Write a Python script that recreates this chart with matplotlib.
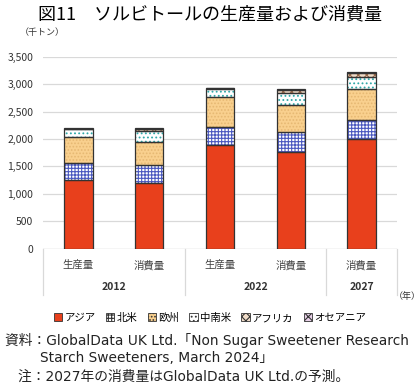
import numpy as np
import matplotlib
matplotlib.use("Agg")
import matplotlib.pyplot as plt
from matplotlib.patches import Patch

plt.rcParams['font.family'] = ['Noto Sans CJK JP', 'DejaVu Sans']
plt.rcParams['hatch.linewidth'] = 0.8

# data (thousand tonnes)
bar_labels = ["生産量", "消費量", "生産量", "消費量", "消費量"]
years = ["2012", "2022", "2027"]
year_span = [2, 2, 1]
regions = ["アジア", "北米", "欧州", "中南米", "アフリカ", "オセアニア"]
asia = [1250, 1200, 1885, 1770, 1995]
n_america = [320, 325, 340, 355, 350]
europe = [465, 420, 535, 500, 560]
latam = [150, 205, 160, 210, 220]
africa = [5, 25, 5, 60, 70]
oceania = [3, 20, 3, 25, 30]
series = [asia, n_america, europe, latam, africa, oceania]

# face, hatch colour, hatch pattern
styles = [
    ("#E8401C", None, None),
    ("white", "#4A58C0", "+++++"),
    ("#F9D08E", "#E6B872", "....."),
    ("white", "#2FA8A8", "...."),
    ("#F0DCC8", "#9A6A4A", "xxxx"),
    ("#E8D0E8", "#7A3A8A", "xxxx"),
]

fig = plt.figure(figsize=(4.2, 3.85), dpi=100)
ax = fig.add_axes([43 / 420, 136.3 / 385, 354 / 420, 192 / 385])

x = np.arange(len(bar_labels))
bottom = np.zeros(len(x))
for vals, (fc, hc, hp) in zip(series, styles):
    vals = np.array(vals, dtype=float)
    if hp:
        ax.bar(x, vals, 0.4, bottom=bottom, color=fc, edgecolor=hc, hatch=hp,
               linewidth=0, zorder=2)
    else:
        ax.bar(x, vals, 0.4, bottom=bottom, color=fc, linewidth=0, zorder=2)
    ax.bar(x, vals, 0.4, bottom=bottom, fill=False, edgecolor="#333333",
           linewidth=0.9, zorder=3)
    bottom += vals

ax.set_xlim(-0.5, len(x) - 0.5)
ax.set_ylim(0, 3500)
ax.set_yticks(np.arange(0, 3501, 500))
ax.set_yticklabels([f"{v:,}" for v in range(0, 3501, 500)], fontsize=7.5, color="#333333")
ax.tick_params(axis="y", length=0, pad=7)
ax.set_xticks([])
ax.grid(axis="y", color="#D9D9D9", linewidth=0.9, zorder=0)
ax.set_axisbelow(True)
for s in ax.spines.values():
    s.set_visible(False)
ax.axhline(0, color="#D9D9D9", linewidth=0.9, zorder=1)

# two-level category axis
trans = ax.get_xaxis_transform()
for i, lab in enumerate(bar_labels):
    ax.text(i, -0.085, lab, transform=trans, ha="center", va="center",
            fontsize=7.5, color="#444444")
pos = -0.5
ax.plot([pos, pos], [0, -0.24], transform=trans, color="#D9D9D9", lw=0.9, clip_on=False)
for yr, span in zip(years, year_span):
    ax.text(pos + span / 2, -0.2, yr, transform=trans, ha="center", va="center",
            fontsize=7.5, fontweight="bold", color="#333333")
    pos += span
    ax.plot([pos, pos], [0, -0.24], transform=trans, color="#D9D9D9", lw=0.9, clip_on=False)

fig.text(42 / 420, 1 - 33 / 385, "（千トン）", fontsize=6.5, ha="center", va="center", color="#333333")
fig.text(407 / 420, 1 - 297 / 385, "（年）", fontsize=6.5, ha="center", va="center", color="#333333")

fig.text(0.5, 1 - 14 / 385, "図11　ソルビトールの生産量および消費量", fontsize=13,
         ha="center", va="center")

handles = [Patch(facecolor=fc, edgecolor="#333333", hatch=hp if hp else None, linewidth=0.6)
           for fc, hc, hp in styles]
fig.legend(handles, regions, loc="center", bbox_to_anchor=(0.5, 1 - 318 / 385), ncol=6,
           frameon=False, fontsize=7.5, handlelength=0.8, handleheight=0.8,
           handletextpad=0.2, columnspacing=1.0)

src_font = ['DejaVu Sans', 'Noto Sans CJK JP']
fig.text(5 / 420, 1 - 340 / 385, "資料：GlobalData UK Ltd.「Non Sugar Sweetener Research",
         fontsize=9.9, ha="left", va="center", color="#222222", family=src_font)
fig.text(40 / 420, 1 - 358 / 385, "Starch Sweeteners, March 2024」",
         fontsize=9.9, ha="left", va="center", color="#222222", family=src_font)
fig.text(18 / 420, 1 - 377 / 385, "注：2027年の消費量はGlobalData UK Ltd.の予測。",
         fontsize=9.9, ha="left", va="center", color="#222222", family=src_font)

fig.savefig("out.png", dpi=100)
